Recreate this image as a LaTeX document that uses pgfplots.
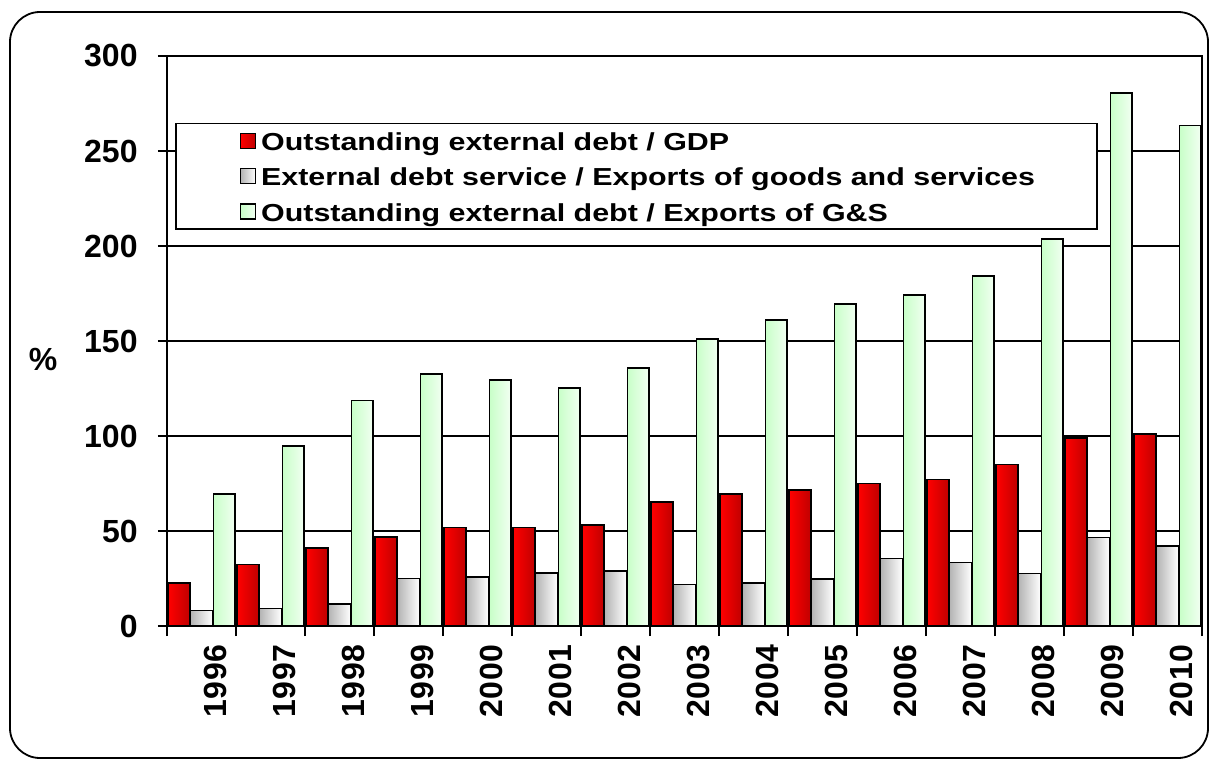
\documentclass[border=0pt]{standalone}
\usepackage{fontspec}
\setmainfont{Liberation Sans}
\usepackage{pgfplots}
\pgfplotsset{compat=1.18}
\definecolor{redL}{HTML}{FF0000}
\definecolor{redR}{HTML}{C00000}
\definecolor{grayL}{HTML}{B4B4B4}
\definecolor{grayR}{HTML}{FFFFFF}
\definecolor{greenL}{HTML}{C8FFC8}
\definecolor{greenR}{HTML}{F2FFF2}
\newfontfamily\legfont[FakeStretch=1.236]{Liberation Sans}
\pgfplotsset{
  sqlegend/.style={legend image code/.code={\path (0pt,0pt); \draw[##1,line width=0.6pt] (3.5pt,-3.75pt) rectangle (11pt,3.75pt);}},
  redbar/.style={sqlegend, bar shift=-0.325, draw=black, line width=0.8pt, left color=redL, right color=redR},
  graybar/.style={sqlegend, bar shift=0, draw=black, line width=0.8pt, left color=grayL, right color=grayR},
  greenbar/.style={sqlegend, bar shift=0.33, draw=black, line width=0.8pt, left color=greenL, right color=greenR},
}
\begin{document}
\begin{tikzpicture}
\useasboundingbox (-83.5pt,-70pt) rectangle (525.5pt,313pt);
\begin{axis}[
  at={(0pt,0pt)}, anchor=south west,
  scale only axis, width=517.5pt, height=285pt,
  ymin=0, ymax=300, ytick={0,50,...,300},
  xmin=-0.5, xmax=14.5,
  xtick={0,...,14},
  xticklabels={1996,1997,1998,1999,2000,2001,2002,2003,2004,2005,2006,2007,2008,2009,2010},
  minor xtick={-0.5,0.5,...,14.5},
  xtick pos=bottom, ytick pos=left,
  major x tick style={draw=none},
  minor x tick style={black, line width=0.8pt},
  minor tick length=5pt,
  xtick align=outside,
  ytick align=center,
  major y tick style={black, line width=0.6pt},
  major tick length=9pt,
  ymajorgrids,
  grid style={black, line width=0.6pt},
  axis line style={black, line width=0.6pt},
  /pgf/number format/assume math mode=true,
  ticklabel style={font=\fontsize{16}{16}\selectfont\bfseries},
  yticklabel style={inner sep=0pt, xshift=-10pt},
  xticklabel style={rotate=90, anchor=east, inner sep=0pt, yshift=-7pt, font=\fontsize{16}{16}\selectfont\bfseries\addfontfeature{LetterSpace=2}},
  ylabel={\%},
  ylabel style={at={(axis description cs:0,0.467)}, rotate=-90, anchor=center, xshift=-62pt, font=\fontsize{16}{16}\selectfont\bfseries},
  ybar, bar width=0.315,
  legend style={at={(rel axis cs:0.0077,0.883)}, anchor=north west,
    draw=black, line width=0.8pt, fill=white, inner xsep=28.5pt, inner ysep=0pt,
    font=\legfont\fontsize{12.3}{12.3}\selectfont\bfseries, row sep=0pt,
    nodes={inner ysep=3pt, inner xsep=2.5pt, text height=10.6pt, text depth=1pt}},
  legend cell align=left,
]
% first bar of each series (legend entries)
\addplot[redbar] coordinates {(0,22.5)};
\addplot[graybar] coordinates {(0,8.2)};
\addplot[greenbar] coordinates {(0,69.5)};
% Outstanding external debt / GDP
\addplot[redbar, forget plot] coordinates {(1,32.3)};
\addplot[redbar, forget plot] coordinates {(2,41.2)};
\addplot[redbar, forget plot] coordinates {(3,46.7)};
\addplot[redbar, forget plot] coordinates {(4,51.9)};
\addplot[redbar, forget plot] coordinates {(5,51.9)};
\addplot[redbar, forget plot] coordinates {(6,53.2)};
\addplot[redbar, forget plot] coordinates {(7,65.3)};
\addplot[redbar, forget plot] coordinates {(8,69.6)};
\addplot[redbar, forget plot] coordinates {(9,71.6)};
\addplot[redbar, forget plot] coordinates {(10,75.1)};
\addplot[redbar, forget plot] coordinates {(11,77.2)};
\addplot[redbar, forget plot] coordinates {(12,84.9)};
\addplot[redbar, forget plot] coordinates {(13,99.1)};
\addplot[redbar, forget plot] coordinates {(14,101.2)};
% External debt service / Exports
\addplot[graybar, forget plot] coordinates {(1,9.3)};
\addplot[graybar, forget plot] coordinates {(2,11.7)};
\addplot[graybar, forget plot] coordinates {(3,24.9)};
\addplot[graybar, forget plot] coordinates {(4,25.9)};
\addplot[graybar, forget plot] coordinates {(5,27.9)};
\addplot[graybar, forget plot] coordinates {(6,28.9)};
\addplot[graybar, forget plot] coordinates {(7,21.8)};
\addplot[graybar, forget plot] coordinates {(8,22.6)};
\addplot[graybar, forget plot] coordinates {(9,24.6)};
\addplot[graybar, forget plot] coordinates {(10,35.6)};
\addplot[graybar, forget plot] coordinates {(11,33.5)};
\addplot[graybar, forget plot] coordinates {(12,27.6)};
\addplot[graybar, forget plot] coordinates {(13,46.5)};
\addplot[graybar, forget plot] coordinates {(14,42.1)};
% Outstanding external debt / Exports of G&S
\addplot[greenbar, forget plot] coordinates {(1,94.6)};
\addplot[greenbar, forget plot] coordinates {(2,118.6)};
\addplot[greenbar, forget plot] coordinates {(3,132.6)};
\addplot[greenbar, forget plot] coordinates {(4,129.5)};
\addplot[greenbar, forget plot] coordinates {(5,125.3)};
\addplot[greenbar, forget plot] coordinates {(6,135.8)};
\addplot[greenbar, forget plot] coordinates {(7,151)};
\addplot[greenbar, forget plot] coordinates {(8,161)};
\addplot[greenbar, forget plot] coordinates {(9,169.5)};
\addplot[greenbar, forget plot] coordinates {(10,174.2)};
\addplot[greenbar, forget plot] coordinates {(11,184.2)};
\addplot[greenbar, forget plot] coordinates {(12,203.7)};
\addplot[greenbar, forget plot] coordinates {(13,280.4)};
\addplot[greenbar, forget plot] coordinates {(14,263.5)};
\legend{Outstanding external debt / GDP, External debt service / Exports of goods and services, Outstanding external debt / Exports of G\&S}
\draw[line width=1.5pt, black] (rel axis cs:0,0) -- (rel axis cs:1,0);
\draw[line width=1pt, black] (rel axis cs:0,0) -- (rel axis cs:0,1);
\draw[line width=1.5pt, black] (rel axis cs:1,0) -- (rel axis cs:1,0.878);
\end{axis}
\draw[line width=0.9pt, rounded corners=15pt] (-78.5pt,-66pt) rectangle (520.5pt,307pt);
\end{tikzpicture}
\end{document}
